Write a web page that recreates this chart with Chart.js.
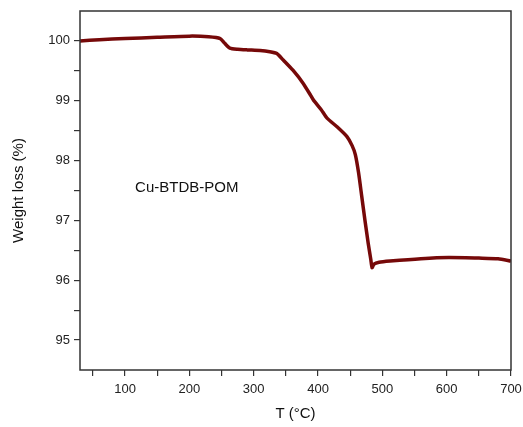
<!DOCTYPE html>
<html>
<head>
<meta charset="utf-8">
<script src="https://cdn.jsdelivr.net/npm/chart.js@4/dist/chart.umd.min.js"></script>
<style>
  html, body { margin: 0; padding: 0; background: #fff; }
  #wrap { width: 523px; height: 427px; }
</style>
</head>
<body>
<div id="wrap"><canvas id="tga-chart"></canvas></div>
<script>
// TGA curve
const temps = [30, 60, 100, 150, 200, 230, 248, 255, 263, 275, 290, 310, 325, 336, 346, 361, 377, 388, 393, 405, 414, 430, 445, 453, 458, 463, 468, 473, 478, 482, 484, 487, 495, 512, 560, 603, 650, 680, 700];
const weights = [100.00, 100.02, 100.04, 100.06, 100.08, 100.07, 100.04, 99.96, 99.88, 99.86, 99.85, 99.84, 99.82, 99.79, 99.68, 99.51, 99.29, 99.10, 99.01, 98.85, 98.71, 98.56, 98.40, 98.25, 98.10, 97.80, 97.40, 97.00, 96.62, 96.35, 96.21, 96.27, 96.30, 96.32, 96.36, 96.38, 96.37, 96.36, 96.32];
const xTicks = [50, 100, 150, 200, 250, 300, 350, 400, 450, 500, 550, 600, 650, 700];
const yTicks = [95, 95.5, 96, 96.5, 97, 97.5, 98, 98.5, 99, 99.5, 100];
const sampleName = 'Cu-BTDB-POM';

const frame = {
    id: 'frame',
    afterDraw(chart) {
        const { ctx, chartArea: a, scales } = chart;
        ctx.save();
        ctx.strokeStyle = '#333';
        ctx.lineWidth = 1.5;
        ctx.strokeRect(a.left, a.top, a.right - a.left, a.bottom - a.top);
        ctx.fillStyle = '#111';
        ctx.font = '15px "Liberation Sans", Arial, sans-serif';
        ctx.textAlign = 'center';
        ctx.textBaseline = 'middle';
        ctx.fillText(sampleName, scales.x.getPixelForValue(196), scales.y.getPixelForValue(97.55));
        ctx.restore();
    }
};

new Chart(document.getElementById('tga-chart'), {
    type: 'line',
    data: {
        datasets: [{
            data: temps.map((t, i) => ({ x: t, y: weights[i] })),
            borderColor: '#760909',
            borderWidth: 3.5,
            pointRadius: 0,
            tension: 0.2,
            fill: false
        }]
    },
    options: {
        responsive: true,
        maintainAspectRatio: false,
        animation: false,
        layout: { padding: { top: 11, right: 12, left: 0, bottom: 0 } },
        plugins: { legend: { display: false }, tooltip: { enabled: false } },
        scales: {
            x: {
                type: 'linear',
                min: 30,
                max: 700,
                afterBuildTicks: s => { s.ticks = xTicks.map(v => ({ value: v })); },
                afterFit: s => { s.height = 57; s.paddingLeft = 0; s.paddingRight = 0; },
                grid: { drawOnChartArea: false, tickLength: 6, color: '#333', lineWidth: 1.2 },
                border: { display: false },
                ticks: {
                    autoSkip: false,
                    maxRotation: 0,
                    color: '#222',
                    font: { family: '"Liberation Sans", Arial, sans-serif', size: 13 },
                    padding: 6,
                    callback: v => (v % 100 === 0 ? v : '')
                },
                title: {
                    display: true,
                    text: 'T (°C)',
                    color: '#111',
                    font: { family: '"Liberation Sans", Arial, sans-serif', size: 15 },
                    padding: { top: 4 }
                }
            },
            y: {
                min: 94.5,
                max: 100.5,
                afterBuildTicks: s => { s.ticks = yTicks.map(v => ({ value: v })); },
                afterFit: s => { s.width = 80; s.paddingTop = 0; s.paddingBottom = 0; },
                grid: { drawOnChartArea: false, tickLength: 6, color: '#333', lineWidth: 1.2 },
                border: { display: false },
                ticks: {
                    autoSkip: false,
                    color: '#222',
                    font: { family: '"Liberation Sans", Arial, sans-serif', size: 13 },
                    padding: 4,
                    callback: v => (Number.isInteger(v) ? v : '')
                },
                title: {
                    display: true,
                    text: 'Weight loss (%)',
                    color: '#111',
                    font: { family: '"Liberation Sans", Arial, sans-serif', size: 15 },
                    padding: { top: 10, bottom: 8 }
                }
            }
        }
    },
    plugins: [frame]
});
</script>
</body>
</html>
